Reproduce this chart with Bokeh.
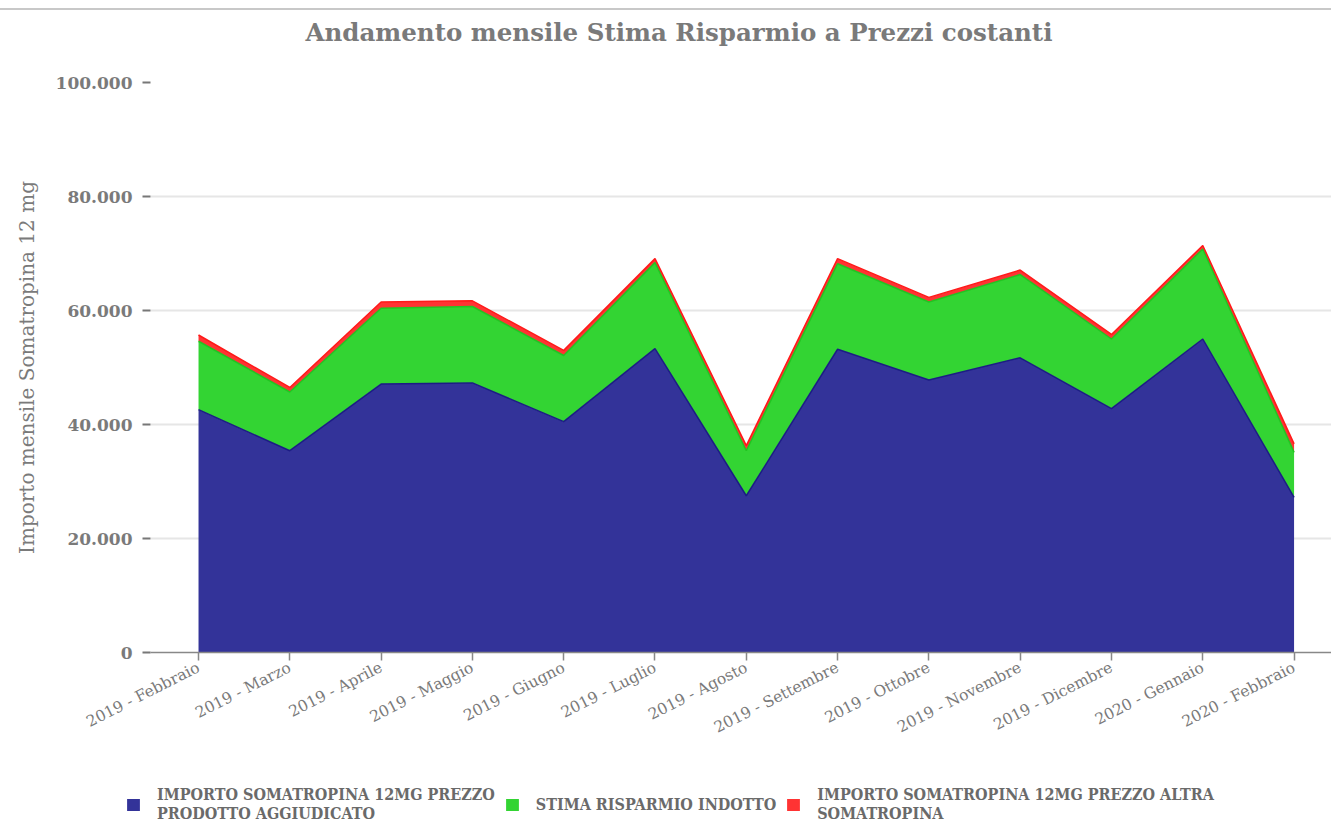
import numpy as np
from bokeh.plotting import figure
from bokeh.models import ColumnDataSource, FixedTicker, Legend, LegendItem, Div, Range1d, Title
from bokeh.layouts import column
from bokeh.embed import file_html
from bokeh.resources import INLINE

months = ["2019 - Febbraio", "2019 - Marzo", "2019 - Aprile", "2019 - Maggio",
          "2019 - Giugno", "2019 - Luglio", "2019 - Agosto", "2019 - Settembre",
          "2019 - Ottobre", "2019 - Novembre", "2019 - Dicembre", "2020 - Gennaio",
          "2020 - Febbraio"]
aggiudicato = [42600, 35400, 47100, 47300, 40500, 53300, 27500, 53200, 47800, 51700, 42800, 55000, 27200]
risparmio = [12000, 10300, 13300, 13400, 11600, 15100, 7900, 15000, 13700, 14600, 12200, 15800, 7900]
altra = [1100, 800, 1100, 1000, 900, 700, 900, 900, 800, 800, 800, 600, 1500]

series_names = ["IMPORTO SOMATROPINA 12MG PREZZO\nPRODOTTO AGGIUDICATO",
                "STIMA RISPARMIO INDOTTO",
                "IMPORTO SOMATROPINA 12MG PREZZO ALTRA\nSOMATROPINA"]
y_ticks = [0, 20000, 40000, 60000, 80000, 100000]
y_tick_labels = ["0", "20.000", "40.000", "60.000", "80.000", "100.000"]

fill_colors = ["#333399", "#33d433", "#ff3333"]
line_colors = ["#1c1c85", "#22c422", "#ff1a1a"]

x = list(range(len(months)))
c1 = np.array(aggiudicato, dtype=float)
c2 = c1 + np.array(risparmio, dtype=float)
c3 = c2 + np.array(altra, dtype=float)
src = ColumnDataSource(dict(x=x, agg=aggiudicato, ris=risparmio, alt=altra,
                            c1=c1, c2=c2, c3=c3))

FONT = "DejaVu Serif"
GREY = "#7a7a7a"

p = figure(width=1331, height=762, output_backend="svg", toolbar_location=None,
           x_range=Range1d(-0.526, 12.41), y_range=Range1d(0, 100000),
           min_border_left=150, min_border_right=0, min_border_top=72,
           min_border_bottom=120)
p.outline_line_color = None
p.background_fill_color = "white"

p.title.text = "Andamento mensile Stima Risparmio a Prezzi costanti"
p.title.align = "left"
p.title.offset = 155
p.title.vertical_align = "bottom"
p.title.text_font = FONT
p.title.text_font_size = "24.5px"
p.title.text_font_style = "bold"
p.title.text_color = GREY
p.title.standoff = 4

# blank spacer between title and plot area
p.add_layout(Title(text=" ", text_font_size="10px", standoff=21), "above")

rs = p.varea_stack(stackers=["agg", "ris", "alt"], x="x", color=fill_colors, source=src)
p.line("x", "c1", source=src, color=line_colors[0], line_width=1.5)
p.line("x", "c2", source=src, color=line_colors[1], line_width=1.5)
p.line("x", "c3", source=src, color=line_colors[2], line_width=1.5)

# y axis
p.yaxis.ticker = FixedTicker(ticks=y_ticks)
p.yaxis.major_label_overrides = {t: l for t, l in zip(y_ticks, y_tick_labels)}
p.yaxis.axis_line_color = None
p.yaxis.major_tick_in = 0
p.yaxis.major_tick_out = 8
p.yaxis.major_tick_line_color = "#777777"
p.yaxis.major_tick_line_width = 2
p.yaxis.minor_tick_line_color = None
p.yaxis.major_label_text_font = FONT
p.yaxis.major_label_text_font_size = "17px"
p.yaxis.major_label_text_font_style = "bold"
p.yaxis.major_label_text_color = GREY
p.yaxis.major_label_standoff = 10
p.yaxis.axis_label = "Importo mensile Somatropina 12 mg"
p.yaxis.axis_label_text_font = FONT
p.yaxis.axis_label_text_font_size = "20px"
p.yaxis.axis_label_text_font_style = "normal"
p.yaxis.axis_label_text_color = GREY
p.yaxis.axis_label_standoff = 14

# x axis
p.xaxis.ticker = FixedTicker(ticks=x)
p.xaxis.major_label_overrides = {i: m for i, m in zip(x, months)}
p.xaxis.major_label_orientation = 0.47
p.xaxis.axis_line_color = "#888888"
p.xaxis.axis_line_width = 1.5
p.xaxis.major_tick_in = 0
p.xaxis.major_tick_out = 8
p.xaxis.major_tick_line_color = "#888888"
p.xaxis.major_tick_line_width = 1.5
p.xaxis.minor_tick_line_color = None
p.xaxis.major_label_text_font = FONT
p.xaxis.major_label_text_font_size = "15.5px"
p.xaxis.major_label_text_color = GREY
p.xaxis.major_label_standoff = 6

p.xgrid.grid_line_color = None
p.ygrid.grid_line_color = "#e6e6e6"
p.ygrid.grid_line_width = 2

# legend strip: same series drawn off-view so the Legend can reference them
lf = figure(width=1331, height=52, output_backend="svg", toolbar_location=None,
            x_range=Range1d(0, 1), y_range=Range1d(-2e6, -1e6),
            x_axis_location=None, y_axis_location=None,
            min_border_left=0, min_border_right=0, min_border_top=0, min_border_bottom=0)
lf.frame_align = False
lf.outline_line_color = None
lf.xgrid.visible = False
lf.ygrid.visible = False
lrs = lf.varea_stack(stackers=["agg", "ris", "alt"], x="x", color=fill_colors, source=src)

legend = Legend(items=[LegendItem(label=series_names[i], renderers=[lrs[i]]) for i in range(3)],
                orientation="horizontal", location=(125, 1))
legend.border_line_color = None
legend.background_fill_alpha = 0
legend.label_text_font = "DejaVu Serif Condensed"
legend.label_text_font_size = "16px"
legend.label_text_font_style = "bold"
legend.label_text_color = "#6a6a6a"
legend.label_text_line_height = 0.9
legend.glyph_width = 16
legend.glyph_height = 15
legend.label_standoff = 16
legend.spacing = 9
legend.padding = 0
legend.margin = 0
lf.add_layout(legend)

line_div = Div(text="", width=1331, height=2, margin=(8, 0, 0, 0),
               styles={"background-color": "#c8c8c8"})
layout = column(line_div, p, lf, spacing=0)

open("out.html", "w").write(file_html(layout, INLINE))
